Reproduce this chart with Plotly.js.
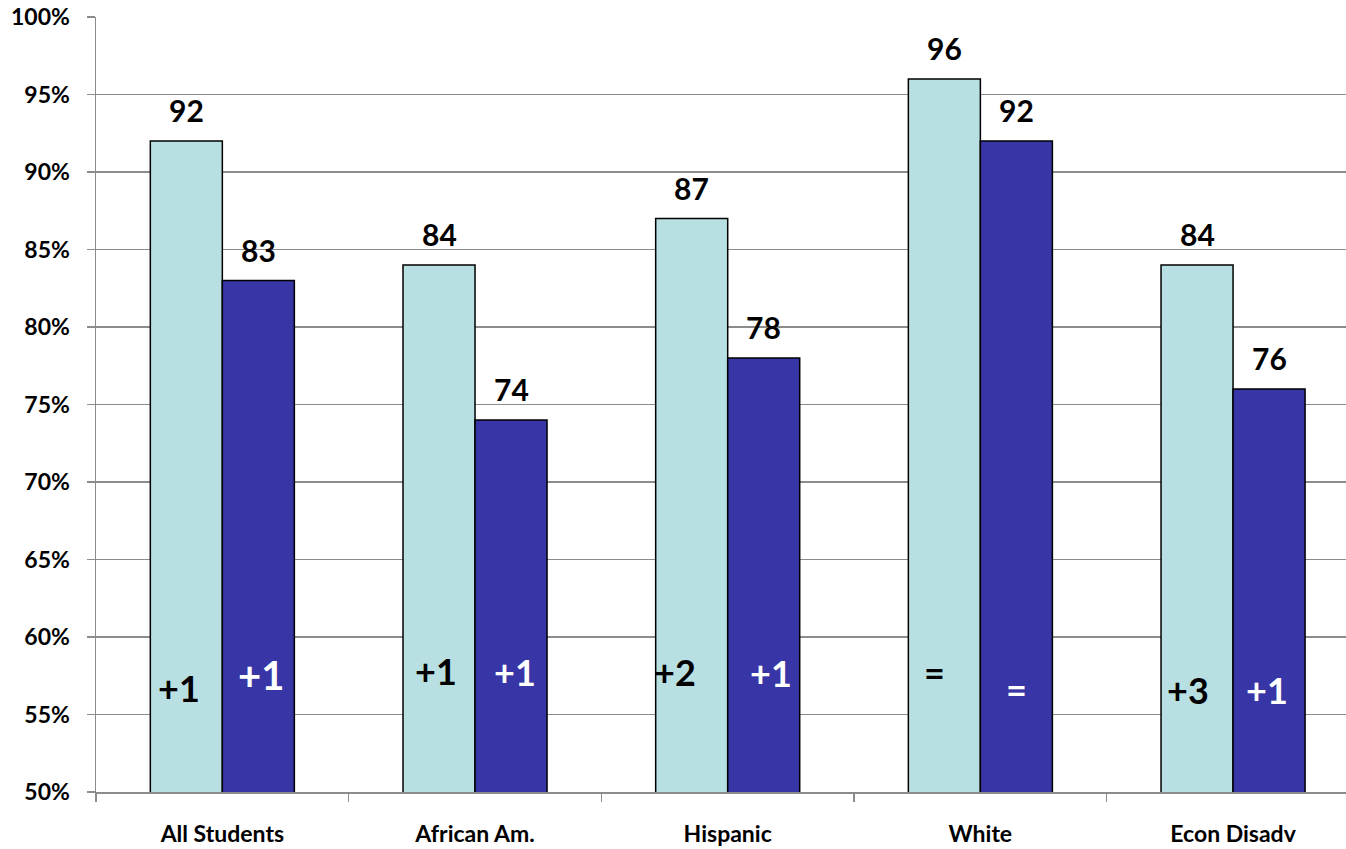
<!DOCTYPE html>
<html>
<head>
<meta charset="utf-8">
<script src="https://cdn.plot.ly/plotly-3.0.1.min.js"></script>
<style>html,body{margin:0;padding:0;background:#fff;}#chart{width:1346px;height:849px;}</style>
</head>
<body>
<div id="chart"></div>
<script>
const categories = ["All Students", "African Am.", "Hispanic", "White", "Econ Disadv"];
const seriesLight = [92, 84, 87, 96, 84];
const seriesDark = [83, 74, 78, 92, 76];
const changeLight = ["+1", "+1", "+2", "=", "+3"];
const changeDark = ["+1", "+1", "+1", "=", "+1"];
const yTickVals = [50, 55, 60, 65, 70, 75, 80, 85, 90, 95, 100];
const yTickText = ["50%", "55%", "60%", "65%", "70%", "75%", "80%", "85%", "90%", "95%", "100%"];

// layout of the change labels (pixel x-shift from bar centre, y in axis units, font size)
const changeLightPos = [[-7, 56.7, 36], [-3, 57.8, 36], [-17, 57.75, 36], [-10, 57.75, 36], [-9, 56.6, 36]];
const changeDarkPos = [[3, 57.55, 40], [4, 57.75, 36], [7, 57.7, 36], [0, 56.65, 36], [-2, 56.6, 36]];

const FONT = "Lato, 'Open Sans', sans-serif";
const half = 0.1425;

const traces = [
  {type: 'bar', x: categories, y: seriesLight, base: 0, name: 'light',
   marker: {color: '#B8E0E3', line: {color: '#000000', width: 1.5}}, hoverinfo: 'skip'},
  {type: 'bar', x: categories, y: seriesDark, base: 0, name: 'dark',
   marker: {color: '#3836A6', line: {color: '#000000', width: 1.5}}, hoverinfo: 'skip'}
];

const annotations = [];
seriesLight.forEach((v, i) => {
  annotations.push({x: i - half, y: v, xref: 'x', yref: 'y', text: String(v), showarrow: false,
    yanchor: 'middle', yshift: 31, font: {family: FONT, size: 30, color: '#000', weight: 'bold'}});
});
seriesDark.forEach((v, i) => {
  annotations.push({x: i + half, y: v, xref: 'x', yref: 'y', text: String(v), showarrow: false,
    yanchor: 'middle', yshift: 31, font: {family: FONT, size: 30, color: '#000', weight: 'bold'}});
});
changeLight.forEach((t, i) => {
  const p = changeLightPos[i];
  annotations.push({x: i - half, y: p[1], xref: 'x', yref: 'y', text: t, showarrow: false,
    xshift: p[0], yanchor: 'middle', font: {family: FONT, size: p[2], color: '#000', weight: 'bold'}});
});
changeDark.forEach((t, i) => {
  const p = changeDarkPos[i];
  annotations.push({x: i + half, y: p[1], xref: 'x', yref: 'y', text: t, showarrow: false,
    xshift: p[0], yanchor: 'middle', font: {family: FONT, size: p[2], color: '#fff', weight: 'bold'}});
});

const layout = {
  width: 1346, height: 849,
  margin: {l: 96, r: 0, t: 17, b: 57, pad: 0},
  paper_bgcolor: '#fff', plot_bgcolor: '#fff',
  showlegend: false,
  barmode: 'group', bargap: 0.43, bargroupgap: 0,
  xaxis: {
    type: 'category', range: [-0.5, 4.447],
    tickson: 'boundaries', ticks: 'outside', ticklen: 8, tickcolor: '#8c8c8c', tickwidth: 1.5,
    showline: true, linecolor: '#8c8c8c', linewidth: 1.5, showgrid: false, zeroline: false,
    ticklabelstandoff: 21,
    tickfont: {family: FONT, size: 23, color: '#000', weight: 'bold'}
  },
  yaxis: {
    range: [50, 100], tickmode: 'array', tickvals: yTickVals, ticktext: yTickText,
    ticks: 'outside', ticklen: 8, tickcolor: '#8c8c8c', tickwidth: 1.5,
    showline: true, linecolor: '#8c8c8c', linewidth: 1.5,
    showgrid: true, gridcolor: '#8c8c8c', gridwidth: 1.5, zeroline: false,
    ticklabelstandoff: 12,
    tickfont: {family: FONT, size: 23, color: '#000', weight: 'bold'}
  },
  annotations: annotations
};

Plotly.newPlot('chart', traces, layout, {displayModeBar: false, staticPlot: true});
</script>
</body>
</html>
